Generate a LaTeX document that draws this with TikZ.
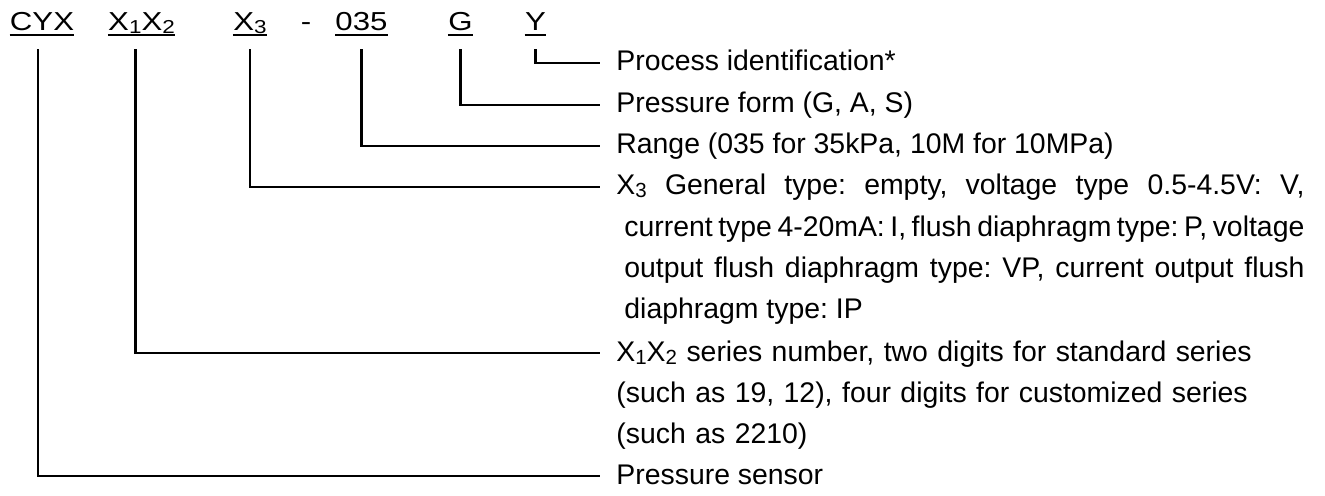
\documentclass[tikz,border=0pt]{standalone}
\usepackage{fontspec}
\setmainfont{Liberation Sans}[WordSpace={1,1,1.5}]
\newfontfamily\codefont[FakeStretch=1.2]{Liberation Sans}
\newcommand{\lowsub}[1]{\raisebox{-0.2ex}{\scalebox{0.72}{#1}}}
\hyphenpenalty=10000
\frenchspacing

\begin{document}
\begin{tikzpicture}[
        x=0.5pt, y=-0.5pt, % one unit per pixel, y going down
        lead/.style={line width=1.4pt, shorten <=7.3pt},
        uline/.style={line width=1pt}]

        \tikzstyle{code}=[
            font=\codefont\fontsize{13pt}{15pt}\selectfont,
            anchor=base,
            inner xsep=0pt,
            inner ysep=1.8pt, % underline just below the baseline
            text depth=0pt
        ]
        \tikzstyle{desc}=[
            font=\fontsize{14.2pt}{20.65pt}\selectfont,
            anchor=base west,
            inner xsep=8pt,
            inner ysep=0pt
        ]
        \useasboundingbox (0,0) rectangle (1325,496);

        % model code
        \node[code] (cyx) at (42,30.7) {CYX};
        \node[code] (xx) at (141.5,30.7) {X\lowsub{1}X\lowsub{2}};
        \node[code] (xthree) at (250,30.7) {X\lowsub{3}};
        \node[code] (dash) at (306,30.7) {-};
        \node[code] (range) at (361.5,30.7) {035};
        \node[code] (form) at (460.5,30.7) {G};
        \node[code] (proc) at (535.5,30.7) {Y};
        \foreach \n in {cyx,xx,xthree,range,form,proc}
            \draw[uline] (\n.south west) -- (\n.south east);

        % meanings
        \node[desc] (dproc) at (600,71) {Process identification*};
        \node[desc] (dform) at (600,113) {Pressure form (G, A, S)};
        \node[desc] (drange) at (600,154) {Range (035 for 35kPa, 10M for 10MPa)};
        \node[desc, text width=344pt, align=justify] (dtype) at (600,195)
            {\hangindent=4pt\hangafter=1
            X\lowsub{3} General type: empty, voltage type 0.5-4.5V: V,\linebreak
            current type 4-20mA: I, flush diaphragm type: P, voltage\linebreak
            output flush diaphragm type: VP, current output flush\linebreak
            diaphragm type: IP\par};
        \node[desc, text width=344pt, align=left] (dseries) at (600,361)
            {X\lowsub{1}X\lowsub{2} series number, two digits for standard series\\
            (such as 19, 12), four digits for customized series\\
            (such as 2210)};
        \node[desc] (dsensor) at (600,484) {Pressure sensor};

        \draw[lead] (proc.south) |- ([yshift=4pt]dproc.base west);
        \draw[lead] (form.south) |- ([yshift=4pt]dform.base west);
        \draw[lead] (range.south) |- ([yshift=4pt]drange.base west);
        \draw[lead] (xthree.south) |- ([yshift=4pt]dtype.base west);
        \draw[lead] ([xshift=-3.2pt]xx.south) |- ([yshift=4pt]dseries.base west);
        \draw[lead] ([xshift=-2pt]cyx.south) |- ([yshift=4pt]dsensor.base west);
\end{tikzpicture}
\end{document}
